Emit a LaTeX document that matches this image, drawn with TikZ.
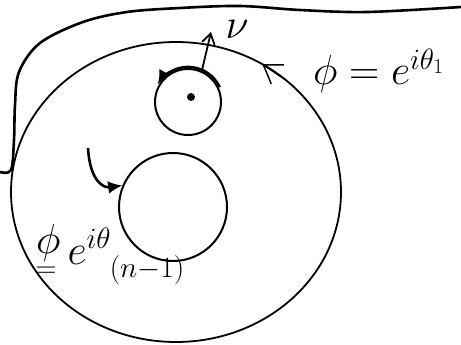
\documentclass[tikz,border=0pt]{standalone}
\usepackage{fix-cm}
\usepackage{amsmath,amssymb}
\usepackage{tikz}
\usetikzlibrary{arrows.meta,shapes.geometric,calc}
\tikzset{
    ring/.style={ellipse,draw,line width=1.8pt,inner sep=0pt,outer sep=0pt,
        minimum width=330pt,minimum height=300pt},
    hole/.style={circle,draw,line width=2pt,inner sep=0pt},
    core/.style={circle,fill,minimum size=8pt,inner sep=0pt},
    shore/.style={line width=2.6pt,line cap=round,line join=round},
    arr/.style={-{Latex[length=5mm,width=4.5mm]},line width=2.6pt},
    barb/.style={-{Straight Barb[length=6mm,width=8mm]},line width=1.5pt},
    lbl/.style={inner sep=0pt,font=\fontsize{42}{48}\selectfont}
}
\begin{document}
\begin{tikzpicture}[x=1pt,y=-1pt]
  \useasboundingbox (0,0) rectangle (461,345);
  % outer wavy boundary
  \draw[shore] plot[smooth,tension=0.55] coordinates {(0,172) (11,170) (14,140)
    (15,105) (19,72) (40,43) (83,22) (127,12) (180,8) (240,6) (300,10) (367,12) (461,7)};
  % disk and its two holes
  \node[ring] (disk) at (176,192) {};
  \node[hole,minimum size=66pt] (spot) at (188,102) {};
  \node[hole,minimum size=108pt] (pit) at (173,207) {};
  \node[core] (ctr) at (191,97) {};
  % orientation on the outer circle
  \draw[barb] (disk.46) -- (disk.56);
  % winding round the small hole
  \draw[arr] ([shift={(-25:35)}]spot.center) arc[start angle=-25,end angle=-150,radius=35];
  % normal vector
  \coordinate (nutip) at (211,32);
  \draw[-{Straight Barb[length=3.5mm,width=4.5mm]},line width=1.8pt] (spot.66) -- (nutip);
  \node[lbl] (nu) at (237,29) {$\nu$};
  % arrow to the larger hole
  \coordinate (hook) at (88,148);
  \draw[arr] (hook) .. controls (90,182) and (104,188) .. (pit.157);
  % labels
  \node[lbl,anchor=west] (phione) at (313,71) {$\phi = e^{i\theta_1}$};
  \node[lbl,anchor=base west] (phin) at (36,264)
    {$\raisebox{11pt}{$\phi$}\llap{\smash{\raisebox{-13pt}{$\scriptstyle=$}}\hspace{4pt}}\,e^{i\theta_{\smash{\raisebox{-24pt}{$\scriptstyle(n-1)$}}}}$};
\end{tikzpicture}
\end{document}
